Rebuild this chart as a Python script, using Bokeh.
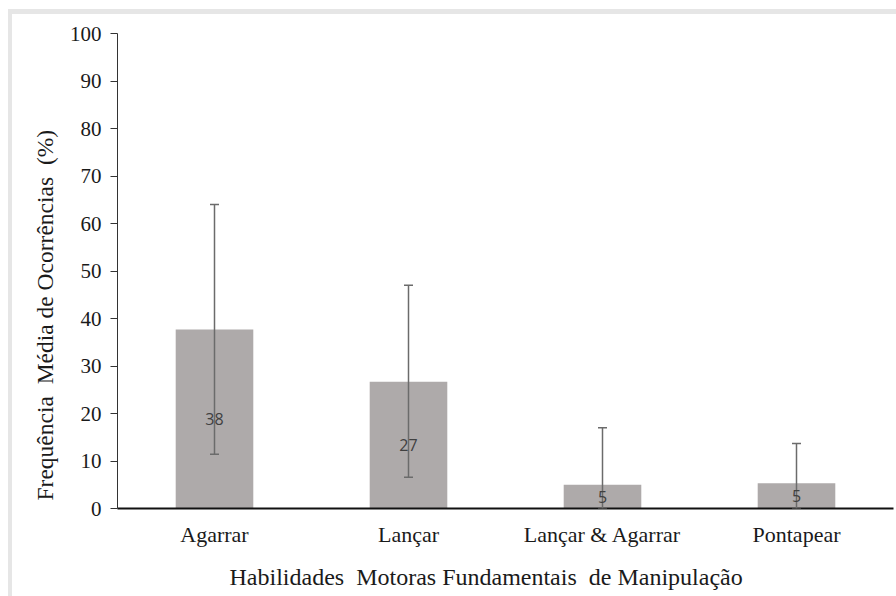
from bokeh.plotting import figure
from bokeh.models import ColumnDataSource, Whisker, FactorRange, Range1d, FixedTicker, LabelSet, Title
from bokeh.core.properties import value
from bokeh.embed import file_html
from bokeh.resources import INLINE

categories = ["Agarrar", "Lançar", "Lançar & Agarrar", "Pontapear"]
means = [37.7, 26.7, 5.0, 5.3]
upper = [64.0, 47.0, 17.0, 13.7]
lower = [11.4, 6.6, 0.0, 0.0]
labels = ["38", "27", "5", "5"]
y_ticks = [0, 10, 20, 30, 40, 50, 60, 70, 80, 90, 100]
y_title = "Frequência\u00a0 Média de Ocorrências\u00a0 (%)"
x_title = "Habilidades\u00a0 Motoras Fundamentais\u00a0 de Manipulação"

src = ColumnDataSource(dict(
    cat=categories, mean=means, upper=upper, lower=lower, label=labels,
    mid=[m / 2 for m in means],
))

p = figure(width=888, height=587, x_range=FactorRange(*categories), y_range=Range1d(0, 100),
           output_backend="svg", toolbar_location=None,
           min_border_left=105, min_border_right=7, min_border_top=19, min_border_bottom=88)
p.styles = {"margin-left": "8px", "margin-top": "9px",
            "border-left": "4px solid #e6e6e6", "border-top": "5px solid #e6e6e6"}
p.x_range.range_padding = 0
p.outline_line_color = None
p.grid.grid_line_color = None
p.background_fill_color = "white"

p.vbar(x="cat", top="mean", width=0.4, source=src, fill_color="#aeaaaa", line_color=None)
w = Whisker(base="cat", upper="upper", lower="lower", source=src,
            line_color="#6b6b6b", line_width=1.5, level="overlay")
for h in (w.upper_head, w.lower_head):
    h.size = 9
    h.line_color = "#6b6b6b"
    h.line_width = 1.5
p.add_layout(w)

lab = LabelSet(x="cat", y="mid", text="label", source=src, text_align="center",
               text_baseline="middle", text_font=value("Open Sans"), text_font_size="16px",
               text_color="#404040", level="overlay")
p.add_layout(lab)

serif = "Liberation Serif"
p.yaxis.ticker = FixedTicker(ticks=y_ticks)
p.yaxis.axis_line_color = "#333333"
p.yaxis.major_tick_line_color = "#333333"
p.yaxis.major_tick_out = 7
p.yaxis.major_tick_in = 0
p.yaxis.minor_tick_line_color = None
p.yaxis.major_label_text_font = serif
p.yaxis.major_label_text_font_size = "21px"
p.yaxis.major_label_text_color = "#1a1a1a"
p.yaxis.major_label_standoff = 9

p.xaxis.axis_line_color = "#111111"
p.xaxis.axis_line_width = 2
p.xaxis.major_tick_line_color = None
p.xaxis.minor_tick_line_color = None
p.xaxis.major_label_text_font = serif
p.xaxis.major_label_text_font_size = "22px"
p.xaxis.major_label_text_color = "#1a1a1a"
p.xaxis.major_label_standoff = 7

yt = Title(text=y_title, align="left", offset=8, text_font=serif, text_font_size="23.5px",
           text_font_style="normal", text_color="#1a1a1a", standoff=18)
p.add_layout(yt, "left")
xt = Title(text=x_title, align="left", offset=112, text_font=serif, text_font_size="24px",
           text_font_style="normal", text_color="#1a1a1a", standoff=24, vertical_align="bottom")
p.add_layout(xt, "below")

open("out.html", "w").write(file_html(p, INLINE))
